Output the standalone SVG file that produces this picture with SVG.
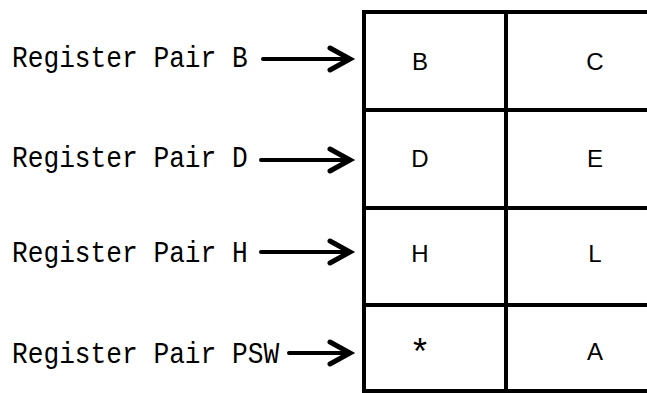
<svg xmlns="http://www.w3.org/2000/svg" xmlns:xlink="http://www.w3.org/1999/xlink" width="647" height="393" viewBox="0 0 647 393">
<style>
.lbl{font-family:"Liberation Mono","DejaVu Sans Mono",monospace;font-size:26.2px;fill:#000}
.cell{font-family:"Liberation Sans","DejaVu Sans",sans-serif;font-size:24px;fill:#000;text-anchor:middle}
.grid{stroke:#000;stroke-width:4;fill:none;stroke-linecap:square}
.shaft{stroke:#000;stroke-width:4;fill:none;stroke-linecap:round}
.head{stroke:#000;stroke-width:5;fill:none;stroke-linecap:round;stroke-linejoin:miter}
</style>
<defs>
<path id="ah" class="head" d="M-20,-11 L0,0 L-20,11"/>
</defs>
<rect width="647" height="393" fill="#fff"/>
<g id="labels">
<text class="lbl" transform="translate(12,67) scale(1,1.15)">Register Pair B</text>
<text class="lbl" transform="translate(12,167) scale(1,1.15)">Register Pair D</text>
<text class="lbl" transform="translate(12,262) scale(1,1.15)">Register Pair H</text>
<text class="lbl" transform="translate(12,363) scale(1,1.15)">Register Pair PSW</text>
</g>
<g id="table">
<path class="grid" d="M364,12 H647 M364,110 H647 M364,208 H647 M364,305 H647 M364,391 H647 M364,12 V391 M506,12 V391"/>
</g>
<g id="cells">
<g id="cellB"><text class="cell" x="420" y="70">B</text></g>
<g id="cellC"><text class="cell" x="595" y="70">C</text></g>
<g id="cellD"><text class="cell" x="420" y="167">D</text></g>
<g id="cellE"><text class="cell" x="595" y="167">E</text></g>
<g id="cellH"><text class="cell" x="420" y="262">H</text></g>
<g id="cellL"><text class="cell" x="595" y="262">L</text></g>
<g id="cellStar"><text class="cell" x="420" y="364" style="font-size:36px">*</text></g>
<g id="cellA"><text class="cell" x="595" y="360">A</text></g>
</g>
<g id="connectors">
<path class="shaft" d="M263,59 H348"/>
<use xlink:href="#ah" x="350" y="59"/>
<path class="shaft" d="M261,160 H348"/>
<use xlink:href="#ah" x="350" y="160"/>
<path class="shaft" d="M261,252 H348"/>
<use xlink:href="#ah" x="350" y="252"/>
<path class="shaft" d="M289,353 H348"/>
<use xlink:href="#ah" x="350" y="353"/>
</g>
</svg>
